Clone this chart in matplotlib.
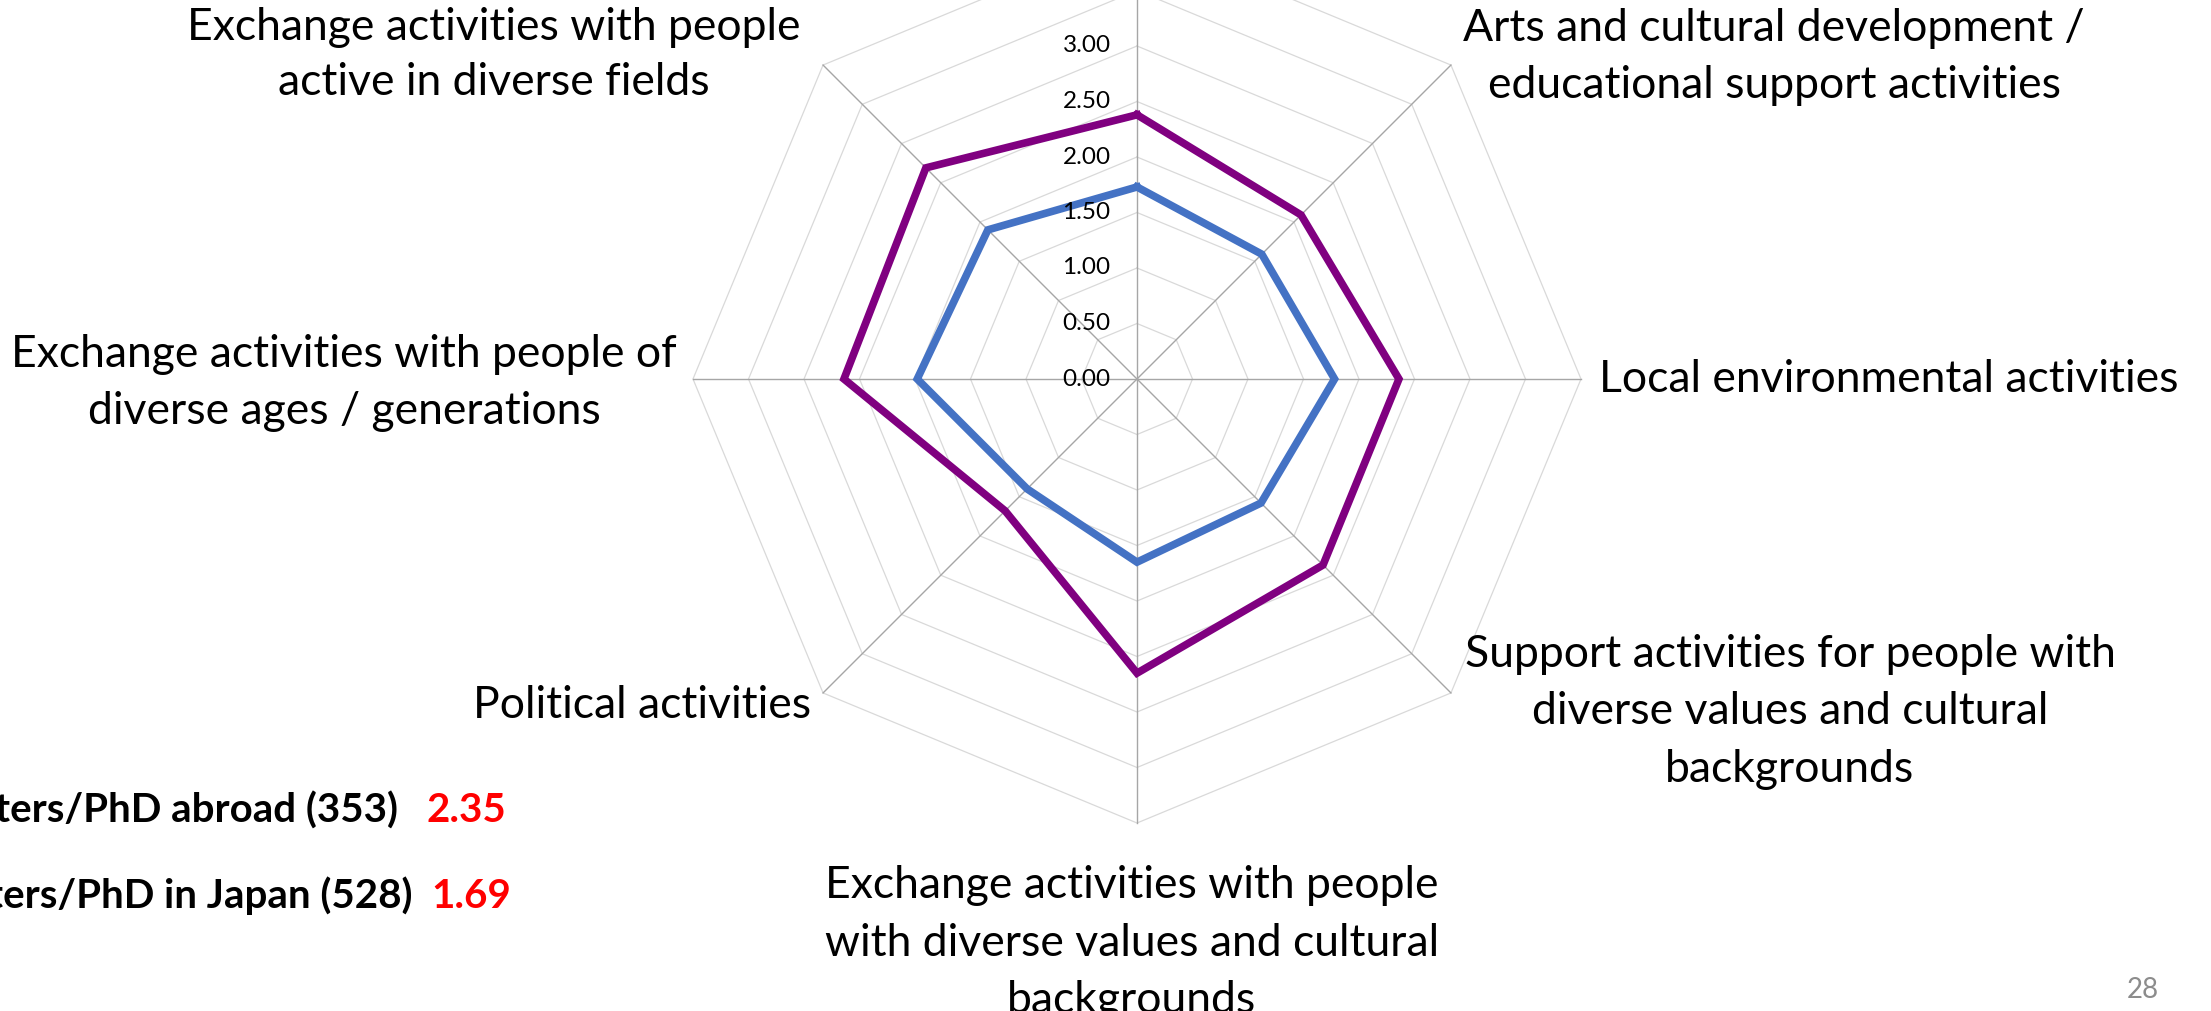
import numpy as np
import matplotlib
matplotlib.use("Agg")
import matplotlib.pyplot as plt

plt.rcParams['font.family'] = ['Lato', 'DejaVu Sans']

# categories clockwise from the top axis (top label lies outside the slide)
categories = [
    "",
    "Arts and cultural development /\neducational support activities",
    "Local environmental activities",
    "Support activities for people with\ndiverse values and cultural\nbackgrounds",
    "Exchange activities with people\nwith diverse values and cultural\nbackgrounds",
    "Political activities",
    "Exchange activities with people of\ndiverse ages / generations",
    "Exchange activities with people\nactive in diverse fields",
]
abroad = [2.38, 2.09, 2.36, 2.37, 2.65, 1.68, 2.64, 2.69]
japan = [1.73, 1.59, 1.78, 1.58, 1.65, 1.40, 1.98, 1.90]
rings = [0.5, 1.0, 1.5, 2.0, 2.5, 3.0, 3.5, 4.0]
tick_vals = [0.0, 0.5, 1.0, 1.5, 2.0, 2.5, 3.0, 3.5]
series_names = ["Masters/PhD abroad (353)", "Masters/PhD in Japan (528)"]
series_means = ["2.35", "1.69"]
page_no = "28"

W, H = 2211, 1011
fig = plt.figure(figsize=(W / 100, H / 100), dpi=100)
fig.patch.set_facecolor("white")

# polar axes centred at (1137, 379) px, radius 444 px
cx, cy, R = 1137, 379, 444
ax = fig.add_axes([(cx - R) / W, (H - cy - R) / H, 2 * R / W, 2 * R / H],
                  projection="polar")
ax.set_theta_zero_location("N")
ax.set_theta_direction(-1)
ax.set_ylim(0, 4)
ax.grid(False)
ax.spines["polar"].set_visible(False)
ax.set_xticks([])
ax.set_yticks([])
ax.patch.set_alpha(0)

n = len(categories)
ang = np.linspace(0, 2 * np.pi, n, endpoint=False)
ang_c = np.append(ang, ang[0])

for r in rings:
    ax.plot(ang_c, [r] * (n + 1), color="#D9D9D9", lw=0.9, clip_on=False, zorder=1)
for a in ang:
    ax.plot([a, a], [0, rings[-1]], color="#A6A6A6", lw=1.0, clip_on=False, zorder=2)

ax.plot(ang_c, abroad + abroad[:1], color="#800080", lw=5.5, zorder=4,
        solid_joinstyle="miter", clip_on=False)
ax.plot(ang_c, japan + japan[:1], color="#4472C4", lw=5.5, zorder=3,
        solid_joinstyle="miter", clip_on=False)

for t in tick_vals:
    ax.annotate(f"{t:.2f}", xy=(0, t), xytext=(-19, 0), textcoords="offset points",
                ha="right", va="center", fontsize=17.5, color="#000000",
                annotation_clip=False, zorder=5)

lab_fs = 32
ls = 1.5
def px(x, y):
    return x / W, 1 - y / H

# label anchors in pixel space
fig.text(*px(1774, 57), categories[1], ha="center", va="center", fontsize=lab_fs, linespacing=ls)
fig.text(*px(1599, 380), categories[2], ha="left", va="center", fontsize=lab_fs)
fig.text(*px(1790, 712), categories[3], ha="center", va="center", fontsize=lab_fs, linespacing=ls)
fig.text(*px(1132, 943), categories[4], ha="center", va="center", fontsize=lab_fs, linespacing=ls)
fig.text(*px(811, 706), categories[5], ha="right", va="center", fontsize=lab_fs)
fig.text(*px(344, 383), categories[6], ha="center", va="center", fontsize=lab_fs, linespacing=ls)
fig.text(*px(494, 55), categories[7], ha="center", va="center", fontsize=lab_fs, linespacing=1.45)

# legend text (left part runs off the slide)
lg_fs = 29
fig.text(*px(398, 811), series_names[0], ha="right", va="center", fontsize=lg_fs, fontweight="bold")
fig.text(*px(426, 811), series_means[0], ha="left", va="center", fontsize=lg_fs, fontweight="bold", color="#FF0000")
fig.text(*px(412, 896), series_names[1], ha="right", va="center", fontsize=lg_fs, fontweight="bold")
fig.text(*px(431, 896), series_means[1], ha="left", va="center", fontsize=lg_fs, fontweight="bold", color="#FF0000")

fig.text(*px(2143, 990), page_no, ha="center", va="center", fontsize=20, color="#8C8C8C")

fig.savefig("out.png", dpi=100)
